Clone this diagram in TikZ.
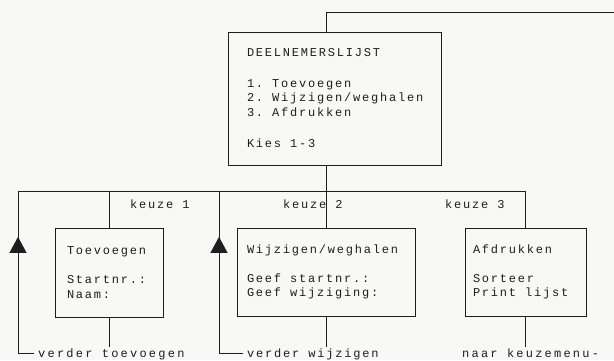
\documentclass[tikz,border=0pt]{standalone}
\usepackage{fontspec}
\newfontfamily\tw{Liberation Mono}[LetterSpace=15]
\newfontfamily\twwide{Liberation Mono}[LetterSpace=18.5]
\usetikzlibrary{arrows.meta,decorations.markings}
\definecolor{ink}{HTML}{1E1E1E}
\definecolor{paper}{HTML}{F8F8F6}
% typewriter text: fixed pitch, fixed word spaces
\newcommand\typefont{\tw\fontsize{12}{14.5}\selectfont}
\newcommand\widefont{\twwide\fontsize{12}{14.5}\selectfont}
\newcommand\fixspaces{\spaceskip=9pt\relax\xspaceskip=9pt\relax}
\newcommand\widespaces{\spaceskip=9.4pt\relax\xspaceskip=9.4pt\relax}

\begin{document}
\begin{tikzpicture}[x=1pt,y=-1pt,
  line/.style={draw=ink,line width=0.9pt},
  menubox/.style={line,font=\typefont,text=ink,
    align=left,inner ysep=0pt,minimum height=#1,
    execute at begin node=\fixspaces},
  lbl/.style={font=\typefont,text=ink,
    inner xsep=4pt,inner ysep=0pt,anchor=base west,
    execute at begin node=\fixspaces},
  lblwide/.style={lbl,font=\widefont,execute at begin node=\widespaces},
  back/.style={line,postaction=decorate,decoration={markings,
    mark=at position #1 with {\arrow{Triangle[width=17pt,length=16pt]}}}}]

\fill[paper] (0,0) rectangle (614,360);
\useasboundingbox (0,0) rectangle (614,360);

% menu and the three choices
\node[menubox=133pt,text width=175pt,inner xsep=19pt] (menu) at (334.5,98.5)
  {DEELNEMERSLIJST\\[16pt]1. Toevoegen\\2. Wijzigen/weghalen\\3. Afdrukken\\[17pt]Kies 1-3};
\node[menubox=89pt,text width=84pt,inner xsep=12pt] (A) at (109,272.5)
  {Toevoegen\\[14.5pt]Startnr.:\\Naam:};
\node[menubox=88pt,text width=158pt,inner xsep=10pt] (B) at (326,272)
  {Wijzigen/weghalen\\[14.5pt]Geef startnr.:\\Geef wijziging:};
\node[menubox=88pt,text width=105pt,inner xsep=8pt] (C) at (525.5,272)
  {Afdrukken\\[14.5pt]Sorteer\\Print lijst};

% labels
\node[lbl] (k1) at (126,208) {keuze 1};
\node[lbl] (k2) at (279,208) {keuze 2};
\node[lbl] (k3) at (441,208) {keuze 3};
\node[lblwide] (ra) at (34,357) {verder toevoegen};
\node[lbl] (rb) at (243,357) {verder wijzigen};
\node[lblwide] (rc) at (458,357) {naar keuzemenu-};

% connectors
\coordinate (busL) at (18,191);
\coordinate (busM) at (219,191);
\coordinate (topR) at (614,12);
\coordinate (tail) at (0,347);

\draw[line] (menu.north -| B.north) |- (topR);
\draw[line] (menu.south -| B.north) -- (B.north);
\draw[line] (busL) -- (busL -| C.north) -- (C.north);
\draw[line] (A.north) -- (A.north |- busL);
\draw[line] (A.south) -- (A.south |- tail);
\draw[line] (B.south) -- (B.south |- tail);
\draw[line] (C.south) -- (C.south |- tail);

\draw[back=133pt] (ra.west) -| (busL);
\draw[back=141pt] (rb.west) -| (busM);
\end{tikzpicture}
\end{document}
